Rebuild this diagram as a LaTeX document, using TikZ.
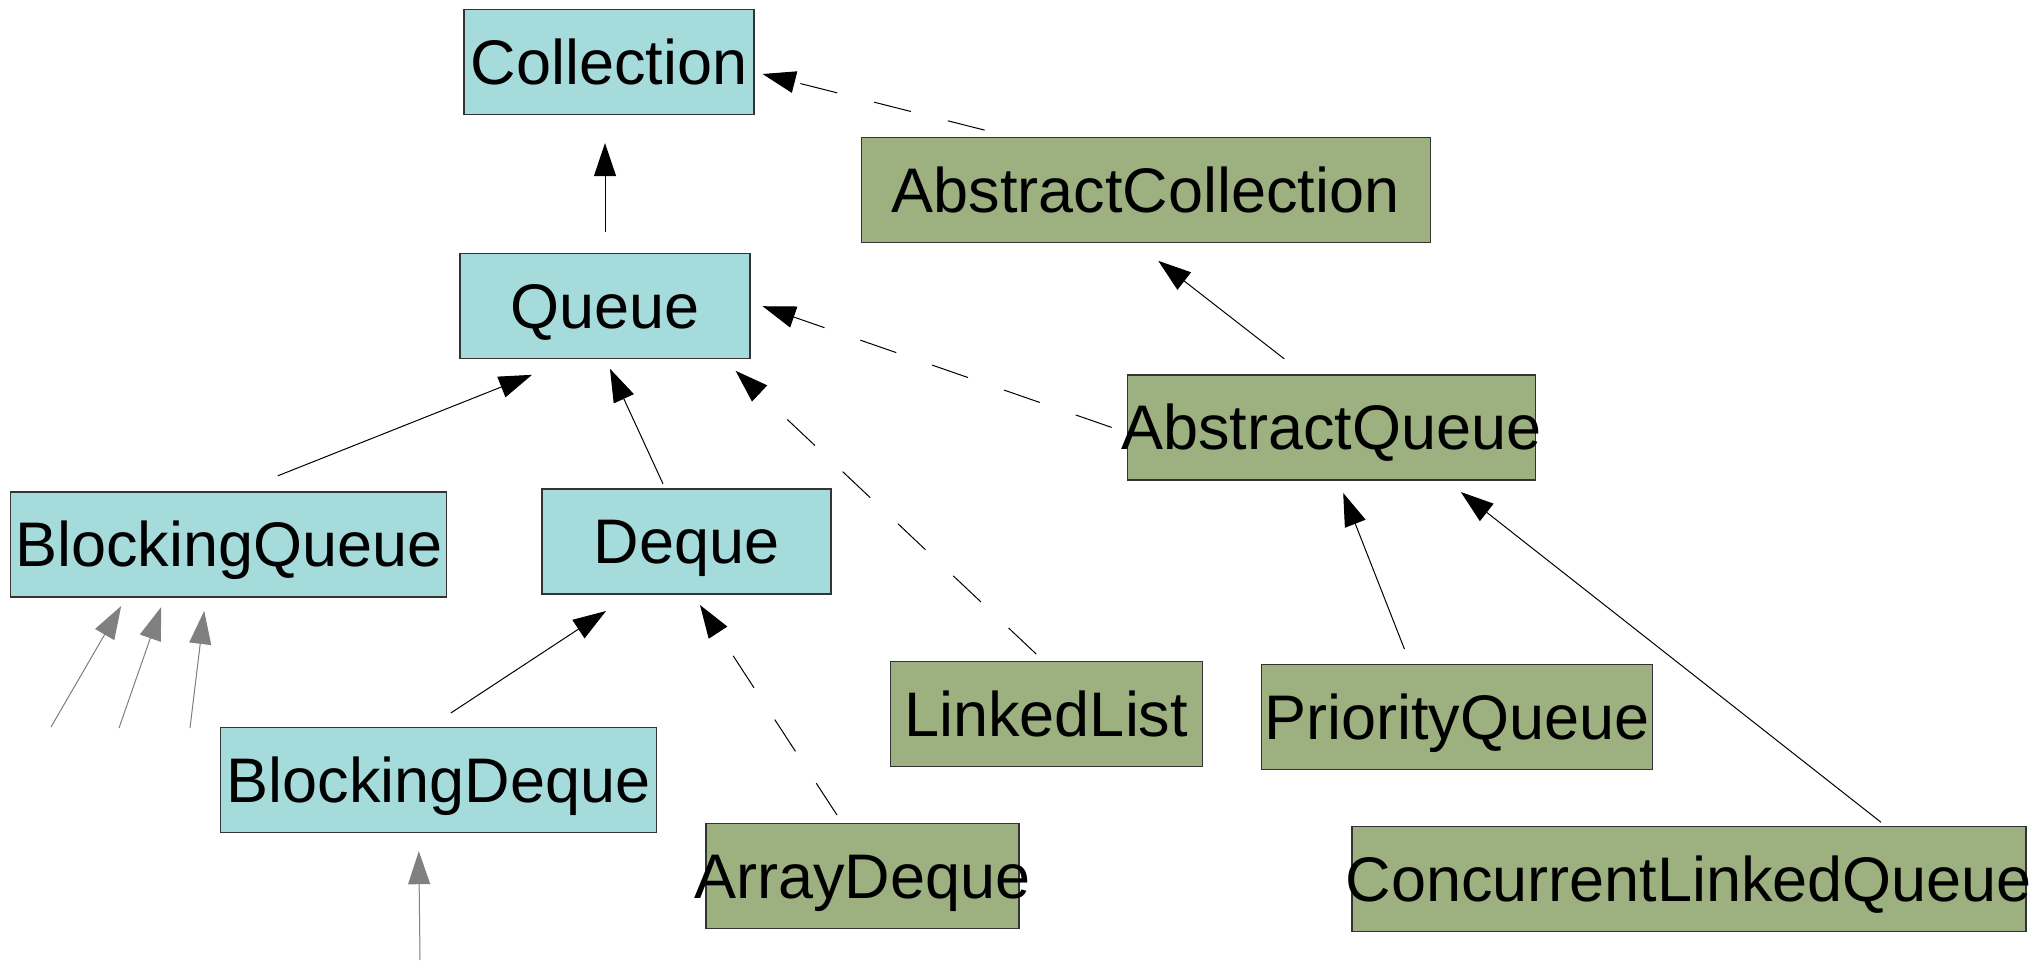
\documentclass[tikz,border=0pt]{standalone}
\usepackage{fontspec}
\setmainfont{Liberation Sans}
\usetikzlibrary{arrows.meta,positioning}

\definecolor{ifacefill}{HTML}{A6DBDB}
\definecolor{implfill}{HTML}{9CB080}
\newcommand{\typename}[1]{\makebox[0pt]{#1}}

\begin{document}
\begin{tikzpicture}[x=0.5pt, y=-0.5pt, font=\fontsize{31.5}{36}\selectfont,
                    box/.style={rectangle, draw=black!80, line width=0.6pt, inner sep=0pt,
                                minimum height=52.5pt, text height=22.5pt, text depth=0pt}]
    \tikzstyle{iface}=[box, fill=ifacefill]
    \tikzstyle{impl}=[box, fill=implfill]
    \tikzstyle{connect}=[-{Triangle[length=16.5pt, width=11pt]}, line width=0.5pt]
    \tikzstyle{realize}=[connect, dash pattern=on 19pt off 19pt]
    \tikzstyle{outside}=[connect, draw=gray, fill=gray]

    \useasboundingbox (0,0) rectangle (2043,960);

      \node[iface, minimum width=145pt] (collection) at (609,62) {\typename{Collection}};
      \node[iface, minimum width=145pt] (queue) [below=69pt of collection, xshift=-2pt] {\typename{Queue}};
      \node[impl, minimum width=284.5pt] (abscoll) [below right=11pt and 53pt of collection] {\typename{AbstractCollection}};
      \node[impl, minimum width=204pt] (absqueue) [below right=7.5pt and 188pt of queue] {\typename{AbstractQueue}};
      \node[iface, minimum width=218pt] (bqueue) [below left=66pt and 6pt of queue] {\typename{BlockingQueue}};
      \node[iface, minimum width=144.5pt] (deque) [right=47pt of bqueue, yshift=1.5pt] {\typename{Deque}};
      \node[impl, minimum width=156pt] (linkedlist) [below right=33.25pt and 29pt of deque] {\typename{LinkedList}};
      \node[impl, minimum width=195.5pt] (pqueue) [right=29pt of linkedlist, yshift=-1.5pt] {\typename{PriorityQueue}};
      \node[iface, minimum width=218pt] (bdeque) [below=64.75pt of bqueue, xshift=105pt] {\typename{BlockingDeque}};
      \node[impl, minimum width=156.5pt] (arraydeque) [below=114.25pt of deque, xshift=88pt] {\typename{ArrayDeque}};
      \node[impl, minimum width=337pt] (clq) [below=28pt of pqueue, xshift=116pt] {\typename{ConcurrentLinkedQueue}};

      \coordinate (bqin1) at (51,727);
      \coordinate (bqin2) at (119,728);
      \coordinate (bqin3) at (190,728);
      \coordinate (bdin) at (420,960);

      \path
        (queue.north) edge [connect, shorten <=10.5pt, shorten >=14pt] (queue.north |- collection.south)
        ([xshift=62pt, yshift=3.5pt]abscoll.north west) edge [realize] ([xshift=4pt, yshift=-6pt]collection.east)
        ([xshift=-7.5pt]absqueue.west) edge [realize] ([xshift=6pt]queue.east)
        ([xshift=-23.5pt, yshift=7.75pt]absqueue.north) edge [connect] ([xshift=6.25pt, yshift=-8.75pt]abscoll.south)
        ([xshift=24.5pt, yshift=7.75pt]bqueue.north) edge [connect] ([xshift=-36.5pt, yshift=-7.75pt]queue.south)
        ([xshift=-11.75pt, yshift=2.25pt]deque.north) edge [connect] ([xshift=2.5pt, yshift=-4.75pt]queue.south)
        ([xshift=-5pt, yshift=3.5pt]linkedlist.north) edge [realize] ([xshift=-7.5pt, yshift=-5.75pt]queue.south east)
        ([xshift=6pt, yshift=7pt]bdeque.north) edge [connect] ([xshift=-40.25pt, yshift=-8.25pt]deque.south)
        ([xshift=-12.75pt, yshift=4pt]arraydeque.north) edge [realize] ([xshift=6.75pt, yshift=-5.25pt]deque.south)
        ([xshift=-26.25pt, yshift=7.5pt]pqueue.north) edge [connect] ([xshift=6pt, yshift=-6.25pt]absqueue.south)
        ([xshift=96pt, yshift=2pt]clq.north) edge [connect] ([xshift=-37.5pt, yshift=-5.75pt]absqueue.south east)
        (bqin1) edge [outside] ([xshift=55.5pt, yshift=-4.25pt]bqueue.south west)
        (bqin2) edge [outside] ([xshift=75.5pt, yshift=-4.75pt]bqueue.south west)
        (bqin3) edge [outside] ([xshift=97pt, yshift=-6.75pt]bqueue.south west)
        (bdin) edge [outside] ([xshift=-10pt, yshift=-9pt]bdeque.south);
    \end{tikzpicture}
\end{document}
